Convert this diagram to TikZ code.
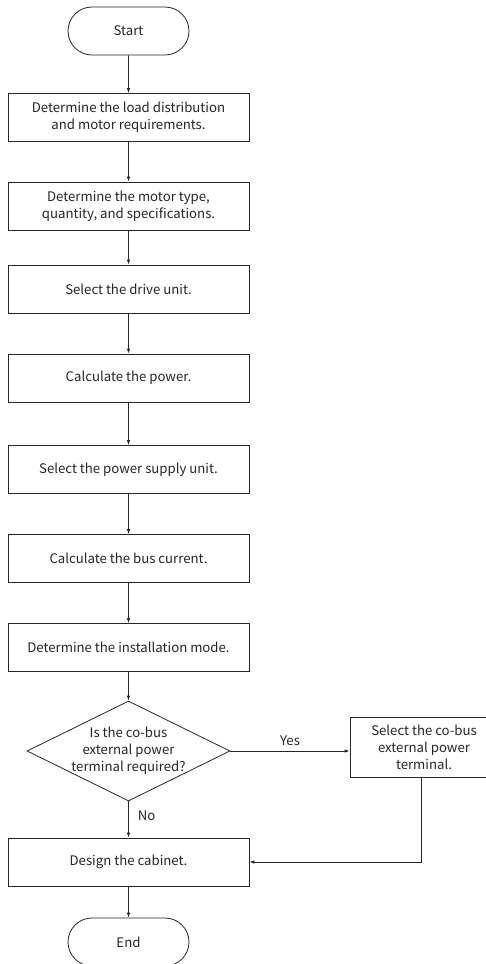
\documentclass[tikz,border=0pt]{standalone}
\usepackage{fontspec}
\setmainfont{Noto Sans CJK SC}
\usetikzlibrary{shapes.geometric,shapes.misc,arrows.meta}
\begin{document}
\begin{tikzpicture}[x=1pt,y=-1pt,
  every node/.style={font=\fontsize{13.2}{17}\selectfont, text=black!85},
  line/.style={draw=black!85, line width=0.8pt},
  arr/.style={line, -{Latex[length=5pt,width=3.5pt]}},
  proc/.style={line, rectangle, minimum width=241pt, minimum height=48pt, align=center, inner sep=0pt},
  term/.style={line, rounded rectangle, minimum width=121pt, minimum height=48pt, inner sep=0pt},
  dec/.style={line, diamond, minimum width=203pt, minimum height=100pt, aspect=2.03, inner sep=-8pt, align=center},
  lbl/.style={inner sep=0pt}]
\clip (0,0) rectangle (486,964);
\fill[white] (0,0) rectangle (486,964);
\node[term] (start) at (128.5,31) {Start};
\node[proc] (b1) at (128.5,117.5) {Determine the load distribution\\and motor requirements.};
\node[proc] (b2) at (128.5,206) {Determine the motor type,\\quantity, and specifications.};
\node[proc] (b3) at (128.5,289) {Select the drive unit.};
\node[proc] (b4) at (128.5,378) {Calculate the power.};
\node[proc] (b5) at (128.5,469.5) {Select the power supply unit.};
\node[proc] (b6) at (128.5,558.5) {Calculate the bus current.};
\node[proc] (b7) at (128.5,647.5) {Determine the installation mode.};
\node[dec] (d) at (128.5,751) {Is the co-bus\\external power\\terminal required?};
\node[proc, minimum width=148pt, minimum height=60pt] (r) at (424,747) {Select the co-bus\\external power\\terminal.};
\node[proc] (b8) at (128.5,862) {Design the cabinet.};
\node[term] (end) at (128.5,942) {End};
\draw[arr] (start) -- (b1);
\draw[arr] (b1) -- (b2);
\draw[arr] (b2) -- (b3);
\draw[arr] (b3) -- (b4);
\draw[arr] (b4) -- (b5);
\draw[arr] (b5) -- (b6);
\draw[arr] (b6) -- (b7);
\draw[arr] (b7) -- (d);
\draw[arr] (d.east) -- (d.east -| r.west) node[lbl, midway, above=5pt] {Yes};
\draw[arr] (d) -- (b8) node[lbl, pos=0.4, right=9pt] {No};
\draw[arr] (r.south -| 421,0) |- (b8.east);
\draw[arr] (b8) -- (end);
\end{tikzpicture}
\end{document}
